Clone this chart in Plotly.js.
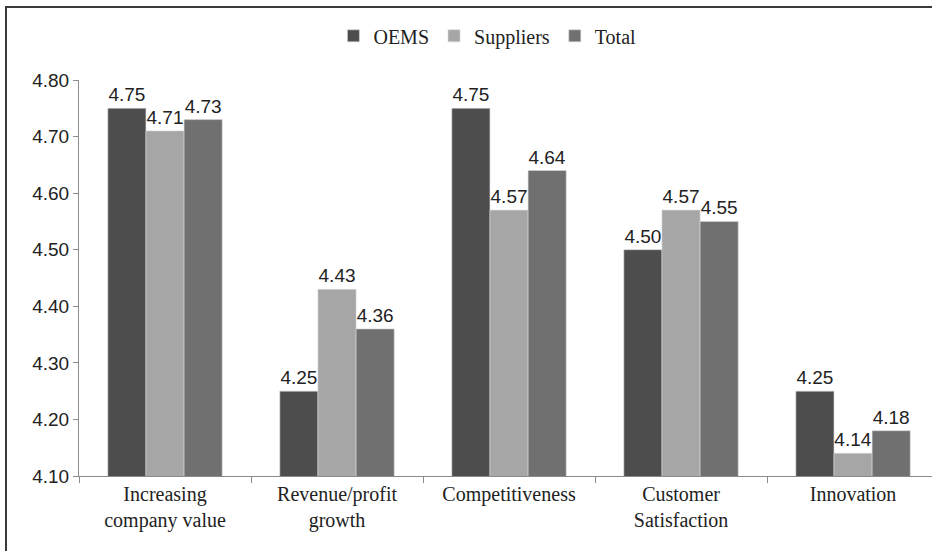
<!DOCTYPE html>
<html>
<head>
<meta charset="utf-8">
<script src="https://cdn.plot.ly/plotly-3.0.1.min.js"></script>
<style>
  html, body { margin: 0; padding: 0; background: #ffffff; }
  #wrap { position: relative; width: 932px; height: 551px; overflow: hidden; }
  #chart { width: 932px; height: 551px; }
  #frame { position: absolute; left: 5px; top: 6px; width: 940px; height: 560px;
           border-top: 2px solid #3a3a3a; border-left: 2px solid #3a3a3a; pointer-events: none; }
</style>
</head>
<body>
<div id="wrap">
  <div id="chart"></div>
  <div id="frame"></div>
</div>
<script>
const categories = [
  "Increasing<br>company value",
  "Revenue/profit<br>growth",
  "Competitiveness",
  "Customer<br>Satisfaction",
  "Innovation"
];
const seriesNames = ["OEMS", "Suppliers", "Total"];
const oems      = [4.75, 4.25, 4.75, 4.50, 4.25];
const suppliers = [4.71, 4.43, 4.57, 4.57, 4.14];
const total     = [4.73, 4.36, 4.64, 4.55, 4.18];
const yTickVals = [4.10, 4.20, 4.30, 4.40, 4.50, 4.60, 4.70, 4.80];

const colors = ["#4d4d4d", "#a6a6a6", "#707070"];
const values = [oems, suppliers, total];

const traces = values.map((v, i) => ({
  type: "bar",
  name: seriesNames[i],
  x: categories,
  y: v,
  base: 0,
  text: v.map(d => d.toFixed(2)),
  textposition: "outside",
  cliponaxis: false,
  textfont: { family: "Liberation Sans, Arial, sans-serif", size: 19, color: "#222222" },
  marker: { color: colors[i], line: { color: "#d9d9d9", width: 0.6 } },
  hoverinfo: "skip"
}));

const layout = {
  width: 932,
  height: 551,
  margin: { l: 79, r: 0, t: 80, b: 75 },
  paper_bgcolor: "#ffffff",
  plot_bgcolor: "#ffffff",
  barmode: "group",
  bargap: 0.335,
  bargroupgap: 0,
  showlegend: true,
  legend: {
    orientation: "h",
    x: 0.523, xref: "container", xanchor: "center",
    y: 0.935, yref: "container", yanchor: "middle",
    font: { family: "Liberation Serif, Times New Roman, serif", size: 20, color: "#222222" },
    itemwidth: 30,
    tracegroupgap: 0,
    traceorder: "normal"
  },
  xaxis: {
    type: "category",
    range: [-0.5, 4.459],
    showgrid: false,
    zeroline: false,
    showline: true,
    linecolor: "#8c8c8c",
    linewidth: 1,
    ticks: "outside",
    tickson: "boundaries",
    ticklen: 6,
    tickcolor: "#8c8c8c",
    tickfont: { family: "Liberation Serif, Times New Roman, serif", size: 20, color: "#222222" },
    automargin: false
  },
  yaxis: {
    range: [4.10, 4.80],
    tickvals: yTickVals,
    ticktext: yTickVals.map(d => d.toFixed(2)),
    showgrid: false,
    zeroline: false,
    showline: true,
    linecolor: "#8c8c8c",
    linewidth: 1,
    ticks: "outside",
    ticklen: 5,
    tickcolor: "#8c8c8c",
    tickfont: { family: "Liberation Sans, Arial, sans-serif", size: 19, color: "#222222" },
    automargin: false
  }
};

Plotly.newPlot("chart", traces, layout, { displayModeBar: false, staticPlot: true });
</script>
</body>
</html>
